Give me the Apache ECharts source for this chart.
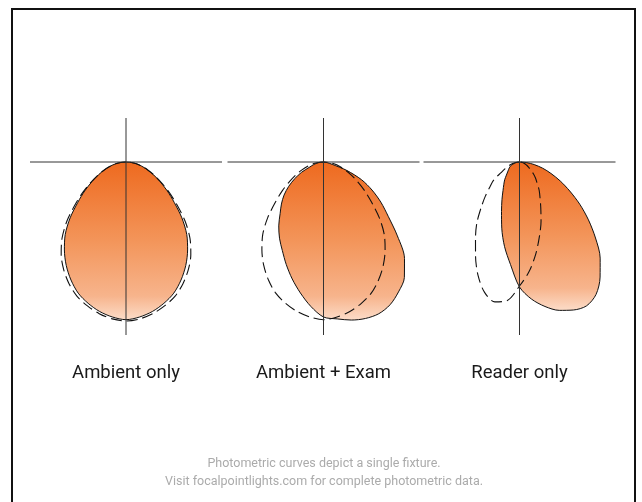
<!DOCTYPE html>
<html>
<head>
<meta charset="utf-8">
<script src="https://cdn.jsdelivr.net/npm/echarts/dist/echarts.min.js"></script>
<style>
  html, body { margin: 0; padding: 0; background: #fff; }
  #main { width: 642px; height: 502px; }
</style>
</head>
<body>
<div id="main"></div>
<script>
// photometric curves: angle from nadir in degrees (+ = right), relative intensity
var angles = [-90, -85, -80, -75, -70, -65, -60, -55, -50, -45, -40, -35, -30, -25, -20, -15, -10, -5,
              0, 5, 10, 15, 20, 25, 30, 35, 40, 45, 50, 55, 60, 65, 70, 75, 80, 85, 90];

var ambient     = [0, 5.2, 10.6, 16.4, 22.9, 30.4, 39.3, 50.4, 63, 79, 94.5, 107.4, 119.5, 130.2, 139.6, 146.3, 151.8, 155.6,
                   157.7, 155.6, 151.8, 146.3, 139.6, 130.2, 119.5, 107.4, 94.5, 79, 63, 50.4, 39.3, 30.4, 22.9, 16.4, 10.6, 5.2, 0];
var ambientRef  = [0, 5.2, 10.6, 16.5, 23.2, 31, 40.5, 52.5, 66.5, 83.5, 99.5, 113, 124.5, 134.5, 143, 149, 154, 157.5,
                   159, 157.5, 154, 149, 143, 134.5, 124.5, 113, 99.5, 83.5, 66.5, 52.5, 40.5, 31, 23.2, 16.5, 10.6, 5.2, 0];
var ambientExam = [0, 3.3, 6.7, 10.4, 14.5, 24, 33, 42.5, 51.5, 59.5, 67.5, 78, 88, 97.5, 109, 121, 133, 145,
                   155, 157.5, 160.5, 162, 161.5, 157.5, 150, 141, 126, 104.5, 84.5, 70, 56, 42, 25, 9, 4, 1.5, 0];
var readerOnly  = [0, 1.8, 3.6, 5.6, 7.8, 10.3, 11.8, 13.4, 15.5, 18.5, 23, 27.3, 33, 41.5, 52.6, 68.5, 86, 103,
                   125, 137.6, 146.7, 153.6, 157.5, 158.7, 153, 140.5, 125.5, 107.5, 90, 73.5, 58, 45, 33.5, 24, 15, 7.4, 0];
var readerRef   = [0, 2.7, 5.5, 8.5, 11.8, 15.8, 21.3, 31.6, 38.5, 48.3, 59.8, 74.3, 88, 104, 121, 135, 142, 139,
                   124, 110, 93.5, 77, 63, 50.3, 41, 34.2, 27.3, 22.6, 17.9, 13.2, 10.4, 8.3, 6.4, 4.6, 3, 1.5, 0];

var panelNames = ['Ambient only', 'Ambient + Exam', 'Reader only'];
var footNote = ['Photometric curves depict a single fixture.',
                'Visit focalpointlights.com for complete photometric data.'];

// crosshair arm lengths: left, right, up, down
var arms = [96, 96, 44, 173];

var centers = [[126, 162], [323.5, 162], [519.5, 162]];
var solids = [ambient, ambientExam, readerOnly];
var dashes = [ambientRef, ambient, readerRef];

function pairs(vals) {
  var out = [];
  for (var i = 0; i < angles.length; i++) out.push([vals[i], angles[i]]);
  return out;
}

var fill = new echarts.graphic.LinearGradient(0, 0, 0, 1, [
  { offset: 0, color: '#EE6A1F' },
  { offset: 0.5, color: '#F3955A' },
  { offset: 0.85, color: '#F7B48C' },
  { offset: 1, color: '#FCDCC8' }
]);

var polar = [], angleAxis = [], radiusAxis = [], series = [], graphic = [];

centers.forEach(function (c, i) {
  polar.push({ center: c, radius: 175 });
  angleAxis.push({ polarIndex: i, type: 'value', min: -180, max: 180,
    startAngle: 90, clockwise: false, show: false });
  radiusAxis.push({ polarIndex: i, type: 'value', min: 0, max: 175, show: false });

  series.push({
    type: 'line', coordinateSystem: 'polar', polarIndex: i,
    data: pairs(solids[i]), smooth: 0.3, showSymbol: false, silent: true, clip: false,
    lineStyle: { color: '#111', width: 1 },
    areaStyle: { color: fill, opacity: 1 }
  });
  series.push({
    type: 'line', coordinateSystem: 'polar', polarIndex: i,
    data: pairs(dashes[i]), smooth: 0.3, showSymbol: false, silent: true, clip: false,
    lineStyle: { color: '#111', width: 1.1, type: [11, 5] }
  });
  series.push({
    type: 'line', coordinateSystem: 'polar', polarIndex: i,
    data: [[arms[0], -90], [0, 0], [arms[1], 90]],
    showSymbol: false, silent: true, clip: false,
    lineStyle: { color: '#333', width: 1 }
  });
  series.push({
    type: 'line', coordinateSystem: 'polar', polarIndex: i,
    data: [[arms[2], 180], [0, 0], [arms[3], 0]],
    showSymbol: false, silent: true, clip: false,
    lineStyle: { color: '#333', width: 1 }
  });

  graphic.push({
    type: 'text', x: c[0], y: 373, silent: true,
    style: { text: panelNames[i], fill: '#1a1a1a', font: '18.5px Roboto',
      textAlign: 'center', textVerticalAlign: 'middle' }
  });
});

footNote.forEach(function (t, k) {
  graphic.push({
    type: 'text', x: 324, y: 464 + k * 18, silent: true,
    style: { text: t, fill: '#ababab', font: '12.5px Roboto',
      textAlign: 'center', textVerticalAlign: 'middle' }
  });
});

graphic.push({
  type: 'rect', silent: true,
  shape: { x: 12, y: 9, width: 623, height: 600 },
  style: { fill: 'none', stroke: '#111', lineWidth: 2 }
});

var myChart = echarts.init(document.getElementById('main'));
myChart.setOption({
  animation: false,
  backgroundColor: '#fff',
  textStyle: { fontFamily: 'Roboto' },
  polar: polar,
  angleAxis: angleAxis,
  radiusAxis: radiusAxis,
  series: series,
  graphic: graphic
});
</script>
</body>
</html>
